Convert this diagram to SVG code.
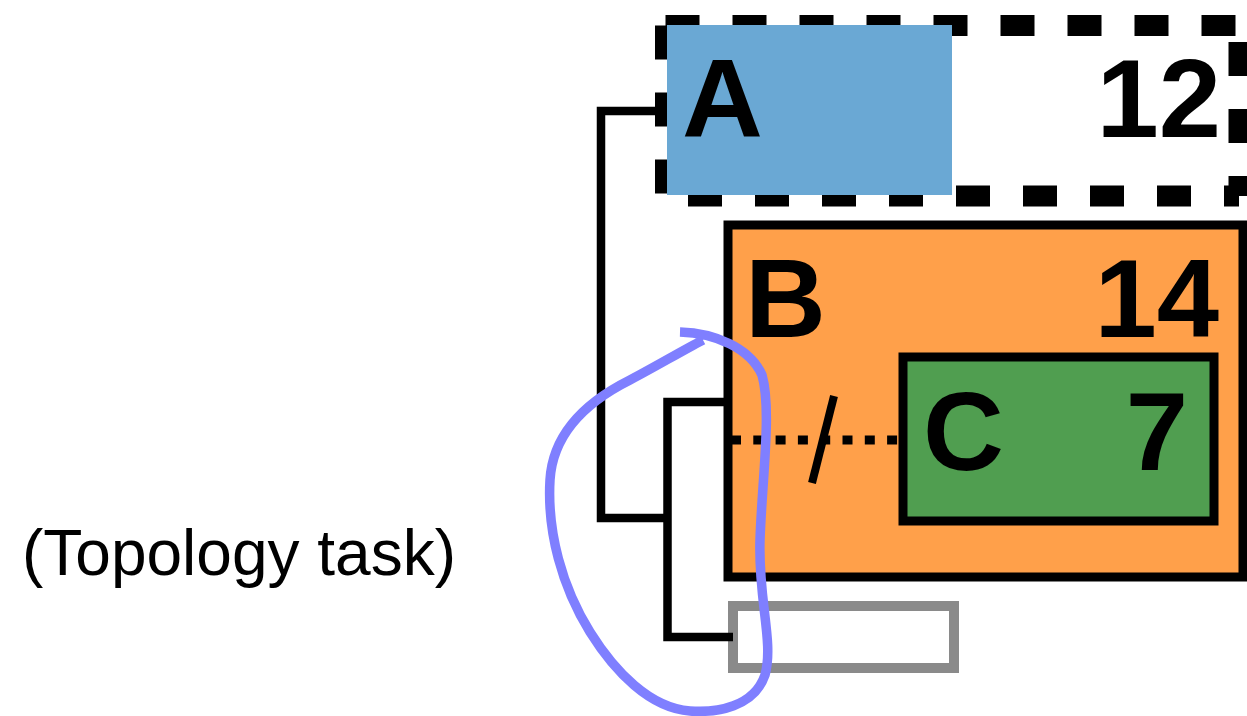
<svg xmlns="http://www.w3.org/2000/svg" width="1247" height="716" viewBox="0 0 1247 716">
<style>
  .lbl { font-family: "Liberation Sans", Arial, sans-serif; font-weight: bold; font-size: 112px; fill: #000; }
  .num { text-anchor: end; }
  .dash { stroke: #000; stroke-width: 21; stroke-dasharray: 34 33; fill: none; }
  .conn { stroke: #000; stroke-width: 8.5; fill: none; stroke-linejoin: miter; }
  .cap { font-family: "Liberation Sans", Arial, sans-serif; font-size: 64px; fill: #000; }
</style>
<rect width="1247" height="716" fill="#fff"/>

<g id="node-A">
  <line class="dash" x1="665.5" y1="25.5" x2="1239" y2="25.5"/>
  <line class="dash" x1="665.5" y1="25.5" x2="665.5" y2="196"/>
  <line class="dash" x1="665.5" y1="196" x2="1239" y2="196" stroke-dashoffset="44.5"/>
  <line class="dash" x1="1239" y1="25.5" x2="1239" y2="196" stroke-dashoffset="50.5"/>
  <rect x="667" y="25" width="285" height="170" fill="#6AA8D4"/>
  <text class="lbl" x="682" y="137">A</text>
  <text class="lbl num" x="1221" y="137">12</text>
</g>

<g id="node-B">
  <rect x="728" y="225" width="515" height="352" fill="#FFA04A" stroke="#000" stroke-width="9"/>
  <text class="lbl" x="745" y="337">B</text>
  <text class="lbl num" x="1219" y="337">14</text>
</g>

<g id="node-C">
  <rect x="903" y="357" width="311" height="164" fill="#509E50" stroke="#000" stroke-width="9"/>
  <text class="lbl" x="923" y="470">C</text>
  <text class="lbl num" x="1188" y="470">7</text>
</g>

<g id="node-D">
  <rect x="733" y="606" width="221" height="62" fill="#fff" stroke="#8a8a8a" stroke-width="10"/>
</g>

<g id="connectors">
  <path class="conn" d="M 665,111 H 601 V 518 H 668"/>
  <path class="conn" d="M 724,402 H 667.5 V 637 H 733"/>
  <line x1="731" y1="440" x2="898" y2="440" stroke="#000" stroke-width="9" stroke-dasharray="10 12.3"/>
  <line x1="834" y1="396" x2="812" y2="483" stroke="#000" stroke-width="8"/>
</g>

<g id="annotation">
  <path d="M 680,332 C 715,333 750,348 762,375 C 772,410 762,480 760,540 C 758,600 774,642 765,675 C 754,707 717,713 690,711 C 650,708 615,672 590,632 C 562,587 547,532 550,480 C 553,430 590,400 630,380 C 655,367 680,352 703,340" fill="none" stroke="#7F7FFF" stroke-width="9.5"/>
</g>

<text class="cap" x="22" y="575">(Topology task)</text>
</svg>
